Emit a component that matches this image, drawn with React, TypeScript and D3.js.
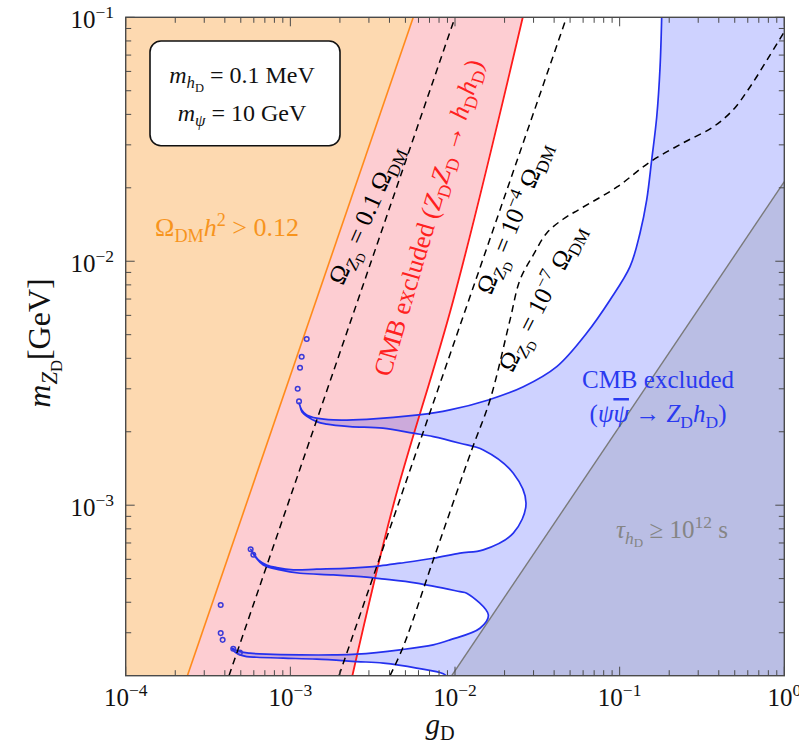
import React from "react";
import * as d3 from "d3";

const W = 799;
const H = 746;
const PL = 125.7, PT = 17.3, PR = 784.3, PB = 675.7;

const gDomain: [number, number] = [1e-4, 1];
const mDomain: [number, number] = [2e-4, 0.1];

const xTickVals = [1e-4, 1e-3, 1e-2, 1e-1, 1];
const xTickExp = ["−4", "−3", "−2", "−1", "0"];
const yTickVals = [1e-1, 1e-2, 1e-3];
const yTickExp = ["−1", "−2", "−3"];

// relic abundance boundary (orange)
const relicG = [2.37e-4, 5.58e-3];
const relicM = [2e-4, 0.1];
// CMB bound Z_D Z_D -> h_D h_D (red)
const cmbZZG = [2.38e-3, 4.22e-3, 9.77e-3, 0.0258];
const cmbZZM = [2e-4, 1e-3, 6.94e-3, 0.1];
// Omega_ZD contours (dashed)
const om01G = [4.24e-4, 0.01];
const om01M = [2e-4, 0.1];
const om4G = [1.974e-3, 0.0476];
const om4M = [2e-4, 0.1];
const om7G = [4.03e-3, 4.853e-3, 7.38e-3, 0.01263, 0.01632, 0.02159, 0.0248, 0.0299, 0.0361, 0.0455, 0.0574, 0.0964, 0.1528, 0.2425, 0.369, 0.488, 0.619, 0.785, 1.0];
const om7M = [2e-4, 2.634e-4, 5.965e-4, 1.685e-3, 2.7e-3, 5.75e-3, 8.38e-3, 0.01061, 0.01306, 0.0149, 0.01638, 0.02016, 0.02553, 0.03054, 0.03551, 0.0417, 0.0518, 0.0668, 0.0873];
// lifetime line tau_hD = 1e12 s
const tauG = [9.55e-3, 1];
const tauM = [2e-4, 0.0212];

// CMB bound psi psibar -> Z_D h_D contour (blue)
const blueContour: [number, number][] = [
  [0.18, 0.1], [0.176, 0.0627], [0.168, 0.0391], [0.1565, 0.026], [0.146, 0.01784],
  [0.133, 0.01306], [0.1156, 9.5e-3], [0.0874, 6.94e-3], [0.0631, 5.08e-3], [0.0415, 3.7e-3],
  [0.026, 3.06e-3], [0.01594, 2.7e-3], [9.32e-3, 2.458e-3], [5.99e-3, 2.344e-3], [2.91e-3, 2.25e-3],
  [1.823e-3, 2.237e-3], [1.445e-3, 2.273e-3], [1.257e-3, 2.344e-3], [1.172e-3, 2.458e-3], [1.129e-3, 2.626e-3],
  [1.145e-3, 2.553e-3], [1.177e-3, 2.412e-3], [1.445e-3, 2.201e-3], [1.663e-3, 2.148e-3], [2.303e-3, 2.1e-3],
  [3.653e-3, 2.068e-3], [5.58e-3, 1.973e-3], [7.38e-3, 1.911e-3], [0.01072, 1.795e-3], [0.01485, 1.685e-3],
  [0.0226, 1.352e-3], [0.027, 1.019e-3], [0.0226, 7.68e-4], [0.01485, 6.56e-4], [0.01072, 6.36e-4],
  [7.38e-3, 6.06e-4], [4.634e-3, 5.785e-4], [3.503e-3, 5.64e-4], [2.303e-3, 5.52e-4], [1.445e-3, 5.465e-4],
  [1.042e-3, 5.43e-4], [8.26e-4, 5.55e-4], [7.18e-4, 5.69e-4], [6.39e-4, 5.965e-4], [5.96e-4, 6.36e-4],
  [5.74e-4, 6.6e-4], [6.1e-4, 6.16e-4], [6.85e-4, 5.69e-4], [8.65e-4, 5.43e-4], [1.145e-3, 5.26e-4],
  [1.823e-3, 5.18e-4], [2.91e-3, 5.07e-4], [3.587e-3, 4.99e-4], [5.85e-3, 4.79e-4], [0.01072, 4.42e-4],
  [0.01178, 4.36e-4], [0.01594, 3.55e-4], [0.01418, 3.13e-4], [9.32e-3, 2.805e-4], [7.38e-3, 2.676e-4],
  [4.634e-3, 2.553e-4], [2.529e-3, 2.45e-4], [1.823e-3, 2.434e-4], [1.145e-3, 2.434e-4], [7.18e-4, 2.45e-4],
  [5.69e-4, 2.473e-4], [4.94e-4, 2.51e-4], [4.4e-4, 2.594e-4], [4.72e-4, 2.473e-4], [5.43e-4, 2.395e-4],
  [6.25e-4, 2.381e-4], [9.06e-4, 2.36e-4], [1.445e-3, 2.338e-4], [2.529e-3, 2.286e-4], [3.668e-3, 2.251e-4],
  [5.85e-3, 2.148e-4], [8.49e-3, 2.035e-4], [9.32e-3, 1.92e-4],
];
const blueDots: [number, number][] = [
  [1.257e-3, 4.8e-3], [1.172e-3, 4.06e-3], [1.145e-3, 3.66e-3], [1.108e-3, 3.0e-3], [1.129e-3, 2.663e-3],
  [5.74e-4, 6.6e-4], [5.96e-4, 6.26e-4],
  [3.776e-4, 3.9e-4], [3.776e-4, 2.99e-4], [3.88e-4, 2.805e-4], [4.5e-4, 2.58e-4], [4.94e-4, 2.489e-4],
];

type Seg = { t: string; i?: boolean; s?: "sub" | "sup" | "ss"; o?: boolean };
function Rich({ segs, fs }: { segs: Seg[]; fs: number }) {
  let cur = 0;
  return (
    <>
      {segs.map((sg, k) => {
        const shift = sg.s === "sub" ? 0.22 * fs : sg.s === "sup" ? -0.4 * fs : sg.s === "ss" ? 0.36 * fs : 0;
        const size = sg.s === "ss" ? 0.52 * fs : sg.s ? 0.7 * fs : fs;
        const dy = shift - cur;
        cur = shift;
        return (
          <tspan key={k} dy={dy} fontSize={size} fontStyle={sg.i ? "italic" : "normal"} textDecoration={sg.o ? "overline" : undefined}>
            {sg.t}
          </tspan>
        );
      })}
    </>
  );
}

export default function App() {
  const x = d3.scaleLog().domain(gDomain).range([PL, PR]);
  const y = d3.scaleLog().domain(mDomain).range([PB, PT]);
  const pts = (gs: number[], ms: number[]) => gs.map((g, i) => [x(g), y(ms[i])] as [number, number]);
  const lin = d3.line();
  const smooth = d3.line().curve(d3.curveCatmullRom.alpha(0.5));

  const relicPts = pts(relicG, relicM);
  const redPts = pts(cmbZZG, cmbZZM);
  const orangePoly = [[x(gDomain[0]), y(mDomain[0])], ...relicPts, [x(gDomain[0]), y(mDomain[1])]] as [number, number][];
  const pinkPoly = [...relicPts, ...redPts.slice().reverse()];

  const bluePx = blueContour.map(([g, m]) => [x(g), y(m)] as [number, number]);
  const blueLine = smooth(bluePx) || "";
  const blueFill = blueLine + `L${x(gDomain[1]) + 3},${y(mDomain[0]) + 3}L${x(gDomain[1]) + 3},${y(mDomain[1])}Z`;

  const tauPts = pts(tauG, tauM);
  const grayPoly = [...tauPts, [x(gDomain[1]), y(mDomain[0])]] as [number, number][];

  const minorX: number[] = [];
  for (let d = -4; d < 0; d++) for (let k = 2; k <= 9; k++) minorX.push(k * Math.pow(10, d));
  const minorY: number[] = [];
  for (let d = -4; d < -1; d++) for (let k = 2; k <= 9; k++) {
    const v = k * Math.pow(10, d);
    if (v > mDomain[0] * 1.001 && v < mDomain[1]) minorY.push(v);
  }

  const font = "'Liberation Serif', 'Times New Roman', serif";
  const tickCol = "#4a4a4a";
  const fsT = 25;

  return (
    <svg width={W} height={H} style={{ position: "absolute", left: 0, top: 0 }} fontFamily={font}>
      <defs>
        <clipPath id="plot">
          <rect x={PL} y={PT} width={PR - PL} height={PB - PT} />
        </clipPath>
      </defs>
      <rect x={0} y={0} width={W} height={H} fill="#fff" />
      <g clipPath="url(#plot)">
        <path d={lin(orangePoly) + "Z"} fill="#fdd9b0" />
        <path d={lin(pinkPoly) + "Z"} fill="#fdcdd2" />
        <path d={blueFill} fill="rgba(10,30,255,0.2)" />
        <path d={lin(grayPoly) + "Z"} fill="rgba(120,120,130,0.22)" />
        <path d={lin(tauPts) || ""} stroke="#7a7a7a" strokeWidth={1.4} fill="none" />
        <path d={lin(relicPts) || ""} stroke="#ff8a1c" strokeWidth={1.6} fill="none" />
        <path d={smooth(redPts) || ""} stroke="#ff1a1a" strokeWidth={1.8} fill="none" />
        <path d={blueLine} stroke="#2430ee" strokeWidth={1.7} fill="none" />
        {blueDots.map(([g, m], i) => (
          <circle key={i} cx={x(g)} cy={y(m)} r={2.3} fill="none" stroke="#3a3ad8" strokeWidth={1.5} />
        ))}
        <path d={lin(pts(om01G, om01M)) || ""} stroke="#000" strokeWidth={1.5} strokeDasharray="7,5" fill="none" />
        <path d={lin(pts(om4G, om4M)) || ""} stroke="#000" strokeWidth={1.5} strokeDasharray="7,5" fill="none" />
        <path d={smooth(pts(om7G, om7M)) || ""} stroke="#000" strokeWidth={1.5} strokeDasharray="7,5" fill="none" />
      </g>

      {/* region labels */}
      <text x={227} y={236} fontSize={26} fill="#f7941d" textAnchor="middle">
        <Rich fs={26} segs={[{ t: "Ω" }, { t: "DM", s: "sub" }, { t: "h", i: true }, { t: "2", s: "sup" }, { t: " > 0.12" }]} />
      </text>
      <text transform="translate(366,215) rotate(-66)" y={8} fontSize={25} fill="#000" textAnchor="middle">
        <Rich fs={25} segs={[{ t: "Ω" }, { t: "Z", i: true, s: "sub" }, { t: "D", s: "ss" }, { t: " = 0.1 Ω" }, { t: "DM", s: "sub" }]} />
      </text>
      <text transform="translate(429,218) rotate(-73.5)" y={8} fontSize={26} fill="#ff2020" textAnchor="middle">
        <Rich fs={26} segs={[{ t: "CMB excluded (" }, { t: "Z", i: true }, { t: "D", s: "sub" }, { t: "Z", i: true }, { t: "D", s: "sub" }, { t: " → " }, { t: "h", i: true }, { t: "D", s: "sub" }, { t: "h", i: true }, { t: "D", s: "sub" }, { t: ")" }]} />
      </text>
      <text transform="translate(514,218) rotate(-68)" y={8} fontSize={25} fill="#000" textAnchor="middle">
        <Rich fs={25} segs={[{ t: "Ω" }, { t: "Z", i: true, s: "sub" }, { t: "D", s: "ss" }, { t: " = 10" }, { t: "−4", s: "sup" }, { t: " Ω" }, { t: "DM", s: "sub" }]} />
      </text>
      <text transform="translate(542,298) rotate(-63)" y={8} fontSize={25} fill="#000" textAnchor="middle">
        <Rich fs={25} segs={[{ t: "Ω" }, { t: "Z", i: true, s: "sub" }, { t: "D", s: "ss" }, { t: " = 10" }, { t: "−7", s: "sup" }, { t: " Ω" }, { t: "DM", s: "sub" }]} />
      </text>
      <text x={658} y={388} fontSize={25} fill="#2a3af0" textAnchor="middle">CMB excluded</text>
      <text x={658} y={422} fontSize={25} fill="#2a3af0" textAnchor="middle">
        <Rich fs={25} segs={[{ t: "(" }, { t: "ψ", i: true }, { t: "ψ", i: true, o: true }, { t: " → " }, { t: "Z", i: true }, { t: "D", s: "sub" }, { t: "h", i: true }, { t: "D", s: "sub" }, { t: ")" }]} />
      </text>
      <text x={672} y={538} fontSize={25} fill="#858585" textAnchor="middle">
        <Rich fs={25} segs={[{ t: "τ", i: true }, { t: "h", i: true, s: "sub" }, { t: "D", s: "ss" }, { t: " ≥ 10" }, { t: "12", s: "sup" }, { t: " s" }]} />
      </text>

      {/* frame and ticks */}
      <rect x={PL} y={PT} width={PR - PL} height={PB - PT} fill="none" stroke={tickCol} strokeWidth={1.4} />
      {xTickVals.map((v, i) => (
        <g key={"xt" + i}>
          <line x1={x(v)} x2={x(v)} y1={PB} y2={PB - 9} stroke={tickCol} strokeWidth={1} />
          <line x1={x(v)} x2={x(v)} y1={PT} y2={PT + 9} stroke={tickCol} strokeWidth={1} />
          <text x={x(v)} y={706} fontSize={fsT} textAnchor="middle" fill="#111">
            <Rich fs={fsT} segs={[{ t: "10" }, { t: xTickExp[i], s: "sup" }]} />
          </text>
        </g>
      ))}
      {minorX.map((v, i) => (
        <g key={"xm" + i}>
          <line x1={x(v)} x2={x(v)} y1={PB} y2={PB - 5.5} stroke={tickCol} strokeWidth={1} />
          <line x1={x(v)} x2={x(v)} y1={PT} y2={PT + 5.5} stroke={tickCol} strokeWidth={1} />
        </g>
      ))}
      {yTickVals.map((v, i) => (
        <g key={"yt" + i}>
          <line x1={PL} x2={PL + 9} y1={y(v)} y2={y(v)} stroke={tickCol} strokeWidth={1} />
          <line x1={PR} x2={PR - 9} y1={y(v)} y2={y(v)} stroke={tickCol} strokeWidth={1} />
          <text x={114} y={y(v) + 11} fontSize={fsT} textAnchor="end" fill="#111">
            <Rich fs={fsT} segs={[{ t: "10" }, { t: yTickExp[i], s: "sup" }]} />
          </text>
        </g>
      ))}
      {minorY.map((v, i) => (
        <g key={"ym" + i}>
          <line x1={PL} x2={PL + 5.5} y1={y(v)} y2={y(v)} stroke={tickCol} strokeWidth={1} />
          <line x1={PR} x2={PR - 5.5} y1={y(v)} y2={y(v)} stroke={tickCol} strokeWidth={1} />
        </g>
      ))}

      {/* axis titles */}
      <text x={440} y={734} fontSize={29} textAnchor="middle" fill="#111">
        <Rich fs={29} segs={[{ t: "g", i: true }, { t: "D", s: "sub" }]} />
      </text>
      <text transform="translate(50,343) rotate(-90)" fontSize={32} textAnchor="middle" fill="#111">
        <Rich fs={32} segs={[{ t: "m", i: true }, { t: "Z", i: true, s: "sub" }, { t: "D", s: "ss" }, { t: "[GeV]" }]} />
      </text>

      {/* parameter box */}
      <rect x={150} y={41} width={190} height={104.7} rx={11} fill="#fff" stroke="#111" strokeWidth={1.6} />
      <text x={242} y={83} fontSize={24} textAnchor="middle" fill="#111">
        <Rich fs={24} segs={[{ t: "m", i: true }, { t: "h", i: true, s: "sub" }, { t: "D", s: "ss" }, { t: " = 0.1 MeV" }]} />
      </text>
      <text x={242} y={121} fontSize={24} textAnchor="middle" fill="#111">
        <Rich fs={24} segs={[{ t: "m", i: true }, { t: "ψ", i: true, s: "sub" }, { t: " = 10 GeV" }]} />
      </text>
    </svg>
  );
}
